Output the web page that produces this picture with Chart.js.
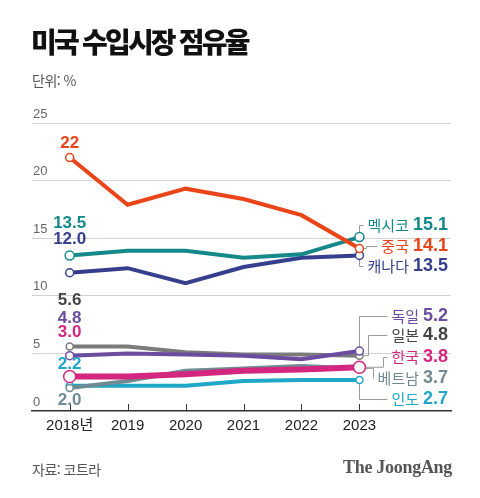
<!DOCTYPE html>
<html lang="ko">
<head>
<meta charset="utf-8">
<script src="https://cdn.jsdelivr.net/npm/chart.js@4"></script>
<style>
  body { margin: 0; background: #fff; }
  #wrap { position: relative; width: 480px; height: 498px; overflow: hidden; font-family: 'Noto Sans CJK KR', sans-serif; }
  #chart { position: absolute; left: 0; top: 0; }
  .title { position: absolute; left: 31px; top: 21px; font-size: 28px; font-weight: 900; letter-spacing: -2.8px; color: #111; line-height: 40px; }
  .unit { position: absolute; left: 32px; top: 70px; font-size: 14px; color: #555; letter-spacing: -0.5px; }
  .source { position: absolute; left: 32px; top: 459px; font-size: 14px; color: #555; letter-spacing: -0.5px; }
  .logo { position: absolute; right: 28px; top: 457px; font-family: 'Liberation Serif', serif; font-weight: bold; font-size: 18px; color: #555; letter-spacing: -0.3px; }
</style>
</head>
<body>
<div id="wrap">
  <canvas id="chart" width="480" height="498"></canvas>
  <div class="title">미국 수입시장 점유율</div>
  <div class="unit">단위: %</div>
  <div class="source">자료: 코트라</div>
  <div class="logo">The JoongAng</div>
</div>
<script>
const years = ['2018년', '2019', '2020', '2021', '2022', '2023'];
const countries = ['한국', '중국', '멕시코', '캐나다', '독일', '일본', '베트남', '인도'];

const korea   = [3.0, 3.0, 3.2, 3.5, 3.6, 3.8];
const china   = [22, 17.9, 19.3, 18.4, 17.0, 14.1];
const mexico  = [13.5, 13.9, 13.9, 13.3, 13.6, 15.1];
const canada  = [12.0, 12.4, 11.1, 12.5, 13.3, 13.5];
const germany = [4.8, 5.0, 4.9, 4.8, 4.5, 5.2];
const japan   = [5.6, 5.6, 5.1, 4.9, 4.9, 4.8];
const vietnam = [2.0, 2.6, 3.5, 3.7, 3.9, 3.7];
const india   = [2.2, 2.2, 2.2, 2.6, 2.7, 2.7];

const yTicks = [0, 5, 10, 15, 20, 25];

// look of each series: line colour, label colour, point size, label placement
const looks = [
  { data: korea,   color: '#d4267f', text: '#d4267f', width: 6, r: 6,   firstLabel: '3.0',  leftDy: -44, rightY: 357, elbow: 24 },
  { data: china,   color: '#ea4519', text: '#e8431a', width: 4, r: 4,   firstLabel: '22',   leftDy: -14, rightY: 246, elbow: 7 },
  { data: mexico,  color: '#15898a', text: '#15898a', width: 4, r: 4.5, firstLabel: '13.5', leftDy: -32, rightY: 225, elbow: 0 },
  { data: canada,  color: '#363f8e', text: '#363f8e', width: 4, r: 4,   firstLabel: '12.0', leftDy: -33, rightY: 266, elbow: 0 },
  { data: germany, color: '#6b4c9e', text: '#6b4c9e', width: 4, r: 4,   firstLabel: '4.8',  leftDy: -37, rightY: 316, elbow: 0 },
  { data: japan,   color: '#7b7b7b', text: '#444444', width: 4, r: 3.5, firstLabel: '5.6',  leftDy: -46, rightY: 335, elbow: 9 },
  { data: vietnam, color: '#6f8a90', text: '#6f8a90', width: 4, r: 3.5, firstLabel: '2.0',  leftDy: 12,  rightY: 378, elbow: 14 },
  { data: india,   color: '#20a7c7', text: '#20a7c7', width: 4, r: 3.5, firstLabel: '2.2',  leftDy: -21, rightY: 399, elbow: 0 }
];

const NUM_FONT = "bold 17px 'Liberation Sans', 'Noto Sans CJK KR', sans-serif";
const NAME_FONT = "15px 'Noto Sans CJK KR', sans-serif";
const VAL_FONT = "bold 18px 'Liberation Sans', 'Noto Sans CJK KR', sans-serif";
const RIGHT_EDGE = 448;

const labelPlugin = {
  id: 'labels',
  beforeDatasetsDraw(chart) {
    const { ctx, scales: { x, y } } = chart;
    ctx.save();
    // small tick marks standing on the baseline
    ctx.strokeStyle = '#333';
    ctx.lineWidth = 1;
    years.forEach((_, i) => {
      const px = Math.round(x.getPixelForValue(i)) + 0.5;
      ctx.beginPath();
      ctx.moveTo(px, y.getPixelForValue(0));
      ctx.lineTo(px, y.getPixelForValue(0) - 7);
      ctx.stroke();
    });
    // leader lines to the right-hand labels
    ctx.strokeStyle = '#9a9a9a';
    looks.forEach((s, k) => {
      const last = s.data.length - 1;
      const px = x.getPixelForValue(last);
      const py = y.getPixelForValue(s.data[last]);
      const ex = Math.round(px + s.elbow) + 0.5;
      const ly = Math.round(s.rightY) + 0.5;
      const w = labelWidth(ctx, countries[k], s.data[last]);
      ctx.beginPath();
      ctx.moveTo(px, py);
      ctx.lineTo(ex, py);
      ctx.lineTo(ex, ly);
      ctx.lineTo(RIGHT_EDGE - w - 4, ly);
      ctx.stroke();
    });
    ctx.restore();
  },
  afterDatasetsDraw(chart) {
    const { ctx, scales: { x, y } } = chart;
    ctx.save();
    ctx.textBaseline = 'middle';
    looks.forEach((s, k) => {
      // first value above/below the first point
      ctx.font = NUM_FONT;
      ctx.textAlign = 'center';
      ctx.fillStyle = s.text;
      ctx.fillText(s.firstLabel, x.getPixelForValue(0), y.getPixelForValue(s.data[0]) + s.leftDy);
      // name + last value at the right
      const last = s.data.length - 1;
      const val = s.data[last].toFixed(1);
      ctx.textAlign = 'right';
      ctx.font = VAL_FONT;
      ctx.fillText(val, RIGHT_EDGE, s.rightY);
      const vw = ctx.measureText(val).width;
      ctx.font = NAME_FONT;
      ctx.fillText(countries[k], RIGHT_EDGE - vw - 4, s.rightY);
    });
    ctx.restore();
  }
};

function labelWidth(ctx, name, v) {
  ctx.save();
  ctx.font = VAL_FONT;
  const a = ctx.measureText(v.toFixed(1)).width;
  ctx.font = NAME_FONT;
  const b = ctx.measureText(name).width;
  ctx.restore();
  return a + 4 + b;
}

new Chart(document.getElementById('chart'), {
  type: 'line',
  data: {
    datasets: looks.map((s, k) => ({
      label: countries[k],
      data: s.data.map((v, i) => ({ x: i, y: v })),
      borderColor: s.color,
      borderWidth: s.width,
      tension: 0,
      pointRadius: c => (c.dataIndex === 0 || c.dataIndex === s.data.length - 1) ? s.r : 0,
      pointBackgroundColor: '#fff',
      pointBorderColor: s.color,
      pointBorderWidth: 1.5
    }))
  },
  options: {
    responsive: false,
    animation: false,
    layout: { padding: { top: 123, left: 30, right: 29, bottom: 57 } },
    plugins: { legend: { display: false }, tooltip: { enabled: false }, title: { display: false } },
    scales: {
      x: {
        type: 'linear',
        min: -0.65,
        max: 6.58,
        afterBuildTicks: scale => { scale.ticks = years.map((_, i) => ({ value: i })); },
        grid: { display: false, drawTicks: false },
        border: { display: true, color: '#333', width: 1.5 },
        ticks: {
          autoSkip: false,
          maxRotation: 0,
          padding: 6,
          color: '#222',
          font: { family: "'Liberation Sans', 'Noto Sans CJK KR', sans-serif", size: 15, lineHeight: 1.2 },
          callback: v => years[v]
        }
      },
      y: {
        min: 0,
        max: 25,
        afterBuildTicks: scale => { scale.ticks = yTicks.map(v => ({ value: v })); },
        grid: { color: c => c.tick.value === 0 ? 'rgba(0,0,0,0)' : '#d2d2d2', lineWidth: 1, drawTicks: false },
        border: { display: false },
        ticks: {
          mirror: true,
          padding: 1,
          labelOffset: -9,
          color: '#666',
          font: { family: "'Liberation Sans', sans-serif", size: 13 }
        }
      }
    }
  },
  plugins: [labelPlugin]
});
</script>
</body>
</html>
